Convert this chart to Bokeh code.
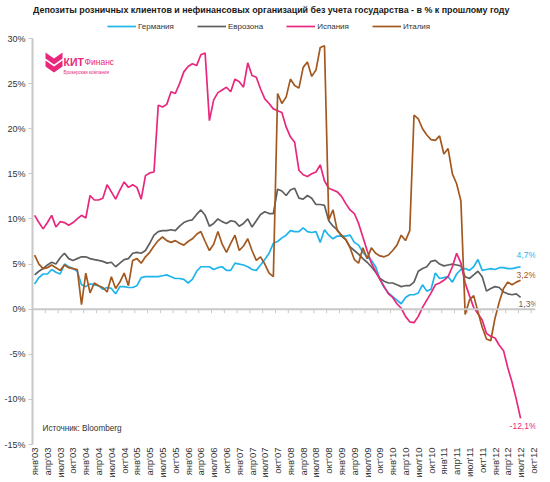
import math
from bokeh.plotting import figure
from bokeh.models import (Range1d, FixedTicker, PrintfTickFormatter, Span, Label,
                          PolyAnnotation, Legend, LegendItem)
from bokeh.embed import file_html
from bokeh.resources import INLINE

FONT = "Liberation Sans"

# ---------------- data ----------------
start_year = 2003
month_names = ["янв", "фев", "мар", "апр", "май", "июн", "июл", "авг", "сен", "окт", "ноя", "дек"]
axis_months = 118  # янв'03 .. окт'12
y_ticks = [-15, -10, -5, 0, 5, 10, 15, 20, 25, 30]
series_names = ["Германия", "Еврозона", "Испания", "Италия"]
title_text = "Депозиты розничных клиентов  и нефинансовых организаций без учета государства - в % к прошлому году"
source_text = "Источник: Bloomberg"
logo_main = "КИТ"
logo_tail = "Финанс"
logo_sub = "Брокерская компания"

germany = [2.8, 3.5, 3.9, 3.9, 4.4, 4.1, 3.9, 5.0, 4.7, 4.5,
           4.2, 2.7, 2.5, 2.8, 2.7, 2.6, 2.2, 2.4, 2.3, 1.7,
           2.5, 2.5, 2.4, 2.4, 2.6, 3.5, 3.6, 3.6, 3.6, 3.6,
           3.7, 3.8, 3.6, 3.4, 3.4, 3.3, 2.9, 3.3, 4.2, 4.7,
           4.7, 4.7, 4.4, 4.6, 4.7, 4.3, 4.3, 5.1, 5.0, 4.9,
           4.7, 4.4, 4.3, 4.9, 5.5, 6.2, 7.3, 7.5, 7.9, 8.2,
           8.7, 8.6, 8.6, 9.0, 8.6, 8.5, 8.6, 7.4, 8.8, 8.2,
           7.8, 8.1, 8.1, 8.1, 8.2, 7.4, 7.1, 6.3, 5.8, 5.4,
           4.7, 3.3, 2.4, 1.8, 1.4, 1.0, 0.6, 1.3, 1.6, 1.6,
           1.8, 2.7, 2.0, 2.2, 4.0, 3.4, 3.5, 3.6, 3.0, 3.9,
           4.4, 4.5, 4.3, 4.7, 5.5, 4.3, 4.4, 4.5, 4.4, 4.6,
           4.6, 4.5, 4.5, 4.6, 4.7]

eurozone = [3.8, 4.2, 4.5, 4.9, 5.2, 5.0, 5.7, 6.2, 5.6, 5.4,
            5.6, 5.8, 5.8, 5.6, 5.5, 5.4, 5.3, 5.1, 5.2, 4.7,
            5.1, 5.5, 5.6, 6.2, 6.3, 6.2, 6.5, 7.3, 8.2, 8.6,
            8.7, 8.7, 8.8, 8.7, 9.2, 9.6, 9.8, 9.9, 10.5, 11.0,
            10.4, 9.2, 9.5, 10.0, 9.7, 9.5, 9.8, 9.7, 9.2, 9.5,
            10.0, 9.1, 9.8, 10.5, 10.8, 10.6, 10.6, 13.3, 13.1, 12.6,
            13.2, 13.4, 12.3, 12.2, 12.6, 12.3, 11.6, 11.6, 11.5, 9.8,
            9.2, 8.8, 8.1, 7.7, 6.9, 6.5, 6.1, 5.6, 5.2, 4.7,
            4.1, 3.4, 3.1, 2.9, 2.9, 2.7, 2.5, 2.6, 2.6, 3.0,
            4.2, 4.5, 4.7, 5.3, 5.4, 5.0, 4.8, 4.9, 5.0, 4.9,
            4.8, 3.6, 3.4, 3.8, 4.2, 3.6, 2.0, 2.3, 2.5, 2.4,
            1.9, 1.7, 1.6, 1.7, 1.3]

spain = [10.4, 9.6, 8.9, 9.6, 10.4, 9.1, 9.7, 9.6, 9.3, 9.6,
         10.0, 10.4, 10.1, 12.6, 12.1, 12.1, 12.3, 13.8, 13.0, 12.2,
         13.2, 14.1, 13.5, 13.8, 13.5, 12.2, 14.8, 15.1, 15.2, 22.6,
         22.4, 22.7, 24.1, 23.9, 25.0, 26.3, 26.9, 27.2, 27.0, 28.2,
         28.4, 20.9, 23.2, 24.0, 24.3, 24.6, 24.1, 25.5, 25.2, 24.6,
         27.3, 25.9, 25.7, 24.4, 23.3, 22.8, 22.2, 22.0, 21.8, 20.2,
         19.1, 18.5, 15.4, 14.9, 14.7, 15.0, 15.2, 16.0, 14.2, 13.4,
         13.2, 13.0, 12.5, 11.7, 11.0, 10.6, 9.5, 8.0, 6.5, 5.1,
         4.2, 3.3, 2.5, 1.7, 1.3, 0.6, 0.1, -0.8, -1.4, -1.5,
         -0.8, 0.2, 1.0, 1.8, 2.7, 2.9, 3.2, 3.6, 4.7, 6.2,
         5.1, 2.9, 1.5, 0.2, -0.5, -1.2, -2.7, -3.0, -3.2, -4.0,
         -4.6, -6.5, -8.1, -10.0, -12.1]

italy = [6.0, 5.0, 4.5, 4.6, 4.9, 4.6, 4.3, 4.9, 4.6, 4.5,
         4.4, 0.5, 4.0, 1.8, 2.9, 2.6, 2.4, 1.9, 3.6, 2.3,
         3.0, 4.0, 2.6, 5.4, 5.6, 5.1, 5.8, 6.3, 7.0, 7.6,
         8.0, 7.6, 7.4, 7.6, 7.3, 7.1, 7.5, 7.8, 8.3, 8.6,
         7.5, 6.5, 7.2, 8.6, 7.2, 6.3, 7.3, 8.2, 6.5, 7.0,
         7.8, 6.5, 5.4, 5.8, 5.0, 4.0, 3.6, 23.9, 22.8, 23.5,
         25.5, 24.8, 24.5, 26.8, 27.4, 25.8, 26.5, 29.0, 29.2, 9.9,
         11.0, 8.7, 8.2, 7.7, 6.8, 5.5, 5.1, 6.8, 5.6, 6.8,
         6.2, 5.9, 5.8, 6.0, 6.5, 7.1, 8.2, 7.6, 8.7, 21.5,
         21.1, 20.0, 19.3, 18.8, 18.7, 19.2, 17.2, 17.8, 15.0, 13.9,
         12.0, -0.6, 1.0, 1.5, -0.3, -2.0, -3.3, -3.5, -1.0, 0.8,
         2.3, 3.0, 2.7, 3.0, 3.2]

series_values = [germany, eurozone, spain, italy]
series_colors = ["#1FB4EC", "#5F5F5F", "#E8277D", "#A3581F"]
# pixel offsets of the end labels from the last point (styling only)
end_label_offsets = [(-4, 12), (-2, -7), (-11, -8), (-4, 5)]

# ---------------- geometry ----------------
W, H = 550, 482
frame_left, frame_right_gap, frame_bottom_gap = 32, 15, 38
axis_top_px = 38  # 30% line sits this far below the top edge
frame_h = H - frame_bottom_gap
y_min, y_max = y_ticks[0], y_ticks[-1]
y_top = y_max + axis_top_px * (y_max - y_min) / (frame_h - axis_top_px)

p = figure(width=W, height=H, output_backend="svg", toolbar_location=None, title=None,
           x_range=Range1d(-0.5, axis_months - 0.5), y_range=Range1d(y_min, y_top),
           min_border_left=frame_left, min_border_right=frame_right_gap,
           min_border_top=0, min_border_bottom=frame_bottom_gap)
p.outline_line_color = None
p.grid.visible = False
p.background_fill_color = "white"
p.border_fill_color = "white"

# y axis
ya = p.yaxis[0]
ya.bounds = (y_min, y_max)
ya.ticker = FixedTicker(ticks=y_ticks)
ya.formatter = PrintfTickFormatter(format="%d%%")
ya.axis_line_color = "#C8C8C8"
ya.axis_line_width = 2
ya.major_tick_line_color = "#C8C8C8"
ya.major_tick_out = 4
ya.major_tick_in = 0
ya.minor_tick_line_color = None
ya.minor_tick_out = 0
ya.major_label_text_font = FONT
ya.major_label_text_font_size = "9px"
ya.major_label_text_color = "#333333"
ya.major_label_standoff = 3

# x axis (labels at the bottom, every quarter)
quarter_idx = list(range(0, axis_months, 3))
overrides = {i: f"{month_names[i % 12]}'{(start_year + i // 12) % 100:02d}" for i in quarter_idx}
xa = p.xaxis[0]
xa.ticker = FixedTicker(ticks=quarter_idx)
xa.major_label_overrides = overrides
xa.major_label_orientation = math.pi / 2
xa.axis_line_color = None
xa.major_tick_line_color = None
xa.major_tick_out = 0
xa.major_tick_in = 0
xa.minor_tick_line_color = None
xa.minor_tick_out = 0
xa.major_label_text_font = FONT
xa.major_label_text_font_size = "9.5px"
xa.major_label_text_color = "#333333"
xa.major_label_standoff = 3

# zero line with quarter-boundary ticks
p.add_layout(Span(location=0, dimension="width", line_color="#C8C8C8", line_width=2))
bounds = [i - 0.5 for i in range(0, axis_months + 1, 3)]
p.segment(x0=bounds, y0=[0] * len(bounds), x1=bounds, y1=[-0.45] * len(bounds),
          line_color="#C8C8C8", line_width=1)

# series
renderers = []
for name, vals, col in zip(series_names, series_values, series_colors):
    xs = list(range(len(vals)))
    renderers.append(p.line(xs, vals, line_color=col, line_width=1.7))

# end labels
for vals, col, (dx, dy) in zip(series_values, series_colors, end_label_offsets):
    last = vals[-1]
    txt = f"{last:.1f}%".replace(".", ",")
    p.add_layout(Label(x=len(vals) - 1, y=last, text=txt, x_offset=dx, y_offset=dy,
                       text_font=FONT, text_font_size="8.5px", text_color=col,
                       text_align="left", text_baseline="middle"))

# legend
legend = Legend(items=[LegendItem(label=n, renderers=[r]) for n, r in zip(series_names, renderers)],
                orientation="horizontal", location=(75, 413),
                background_fill_alpha=0, border_line_color=None,
                label_text_font=FONT, label_text_font_size="8px", label_text_color="#333333",
                glyph_width=29, glyph_height=10, label_height=10, label_standoff=2,
                spacing=23, padding=0, margin=0)
p.add_layout(legend)

# title
p.add_layout(Label(x=240, y=435, x_units="screen", y_units="screen", text=title_text,
                   text_font=FONT, text_font_size="8.9px", text_font_style="bold",
                   text_color="#1A1A1A", text_align="center", text_baseline="middle"))

# source
p.add_layout(Label(x=10, y=16, x_units="screen", y_units="screen", text=source_text,
                   text_font=FONT, text_font_size="8.2px", text_color="#333333",
                   text_align="left", text_baseline="middle"))

# logo
logo_pink = "#E8277D"
p.add_layout(PolyAnnotation(xs=[13, 21.5, 30, 30, 21.5, 13], ys=[392, 386, 392, 386, 380, 386],
                            xs_units="screen", ys_units="screen",
                            fill_color=logo_pink, fill_alpha=1, line_color=None))
p.add_layout(PolyAnnotation(xs=[13, 21.5, 30, 30, 21.5, 13], ys=[384, 378, 384, 378, 372, 378],
                            xs_units="screen", ys_units="screen",
                            fill_color=logo_pink, fill_alpha=1, line_color=None))
p.add_layout(Label(x=31, y=383, x_units="screen", y_units="screen", text=logo_main,
                   text_font=FONT, text_font_size="10.5px", text_font_style="bold",
                   text_color=logo_pink, text_align="left", text_baseline="middle"))
p.add_layout(Label(x=52, y=383, x_units="screen", y_units="screen", text=logo_tail,
                   text_font=FONT, text_font_size="8.5px",
                   text_color=logo_pink, text_align="left", text_baseline="middle"))
p.add_layout(Label(x=31, y=372, x_units="screen", y_units="screen", text=logo_sub,
                   text_font=FONT, text_font_size="4.5px",
                   text_color=logo_pink, text_align="left", text_baseline="middle"))

open("out.html", "w").write(file_html(p, INLINE))
